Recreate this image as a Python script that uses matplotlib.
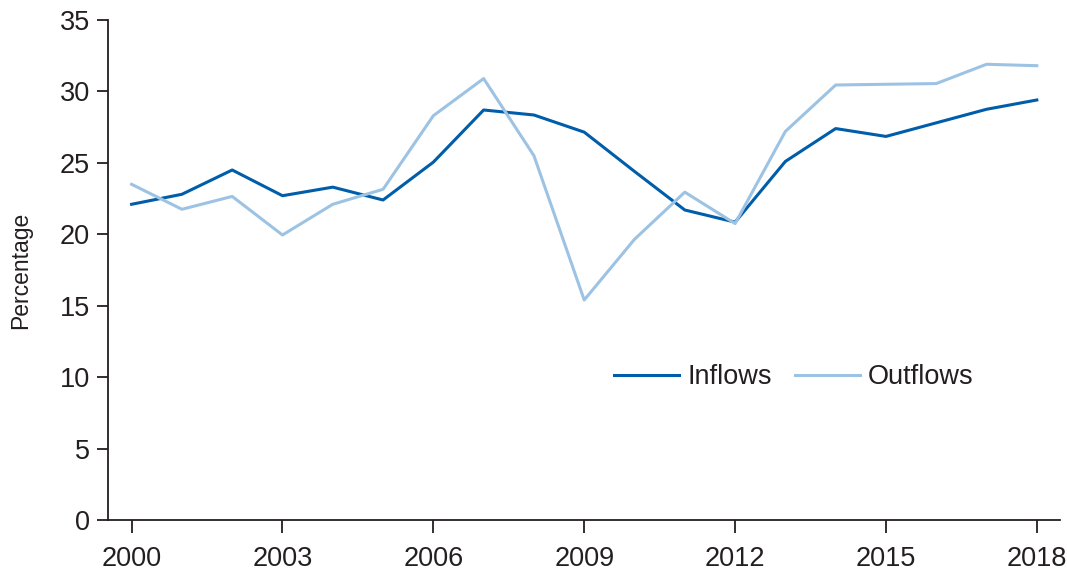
import matplotlib.pyplot as plt

years = list(range(2000, 2019))
inflows = [22.1, 22.8, 24.5, 22.7, 23.3, 22.4, 25.05, 28.7, 28.35, 27.15, 24.4,
           21.7, 20.85, 25.1, 27.4, 26.85, 27.8, 28.75, 29.4]
outflows = [23.5, 21.75, 22.65, 19.95, 22.1, 23.15, 28.3, 30.9, 25.5, 15.4, 19.65,
            22.95, 20.75, 27.2, 30.45, 30.5, 30.55, 31.9, 31.8]
xticks = [2000, 2003, 2006, 2009, 2012, 2015, 2018]
yticks = [0, 5, 10, 15, 20, 25, 30, 35]

text_color = "#231f20"
plt.rcParams["font.family"] = ["Liberation Sans", "DejaVu Sans"]

fig = plt.figure(figsize=(10.67, 5.76), dpi=100)
ax = fig.add_axes([0.1012, 0.0972, 0.8922, 0.8681])

ax.plot(years, inflows, color="#005da9", lw=2.2, label="Inflows")
ax.plot(years, outflows, color="#9dc3e4", lw=2.2, label="Outflows")

ax.set_xlim(1999.53, 2018.46)
ax.set_ylim(0, 35)
ax.set_xticks(xticks)
ax.set_yticks(yticks)

for s in ["top", "right"]:
    ax.spines[s].set_visible(False)
for s in ["left", "bottom"]:
    ax.spines[s].set_color(text_color)
    ax.spines[s].set_linewidth(1.3)

ax.tick_params(axis="both", colors=text_color, labelsize=19.5, width=1.3)
ax.tick_params(axis="y", length=8, pad=5)
ax.tick_params(axis="x", length=9, pad=10)

ax.set_ylabel("Percentage", fontsize=16.5, color=text_color, labelpad=20)

ax.legend(loc="center left", bbox_to_anchor=(0.506, 0.286), ncol=2, frameon=False,
          fontsize=19.5, handlelength=2.4, handletextpad=0.3, columnspacing=0.85,
          labelcolor=text_color)

fig.savefig("out.png", dpi=100)
